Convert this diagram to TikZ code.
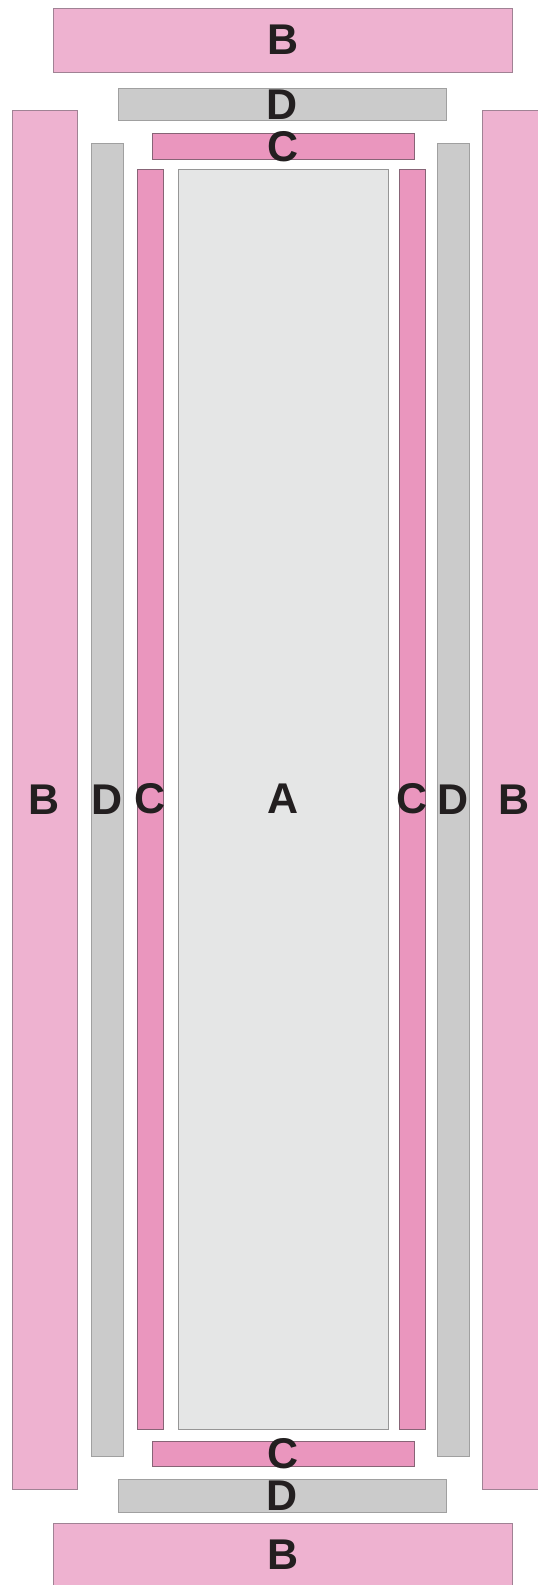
\documentclass[tikz,border=0pt]{standalone}
\usepackage{fontspec}
\setmainfont{Liberation Sans}
\definecolor{zonebfill}{RGB}{238,178,208}
\definecolor{zonebline}{RGB}{160,130,148}
\definecolor{zonecfill}{RGB}{234,150,190}
\definecolor{zonecline}{RGB}{135,100,118}
\definecolor{zonedfill}{RGB}{203,203,203}
\definecolor{zonedline}{RGB}{160,160,160}
\definecolor{zoneafill}{RGB}{229,230,230}
\definecolor{zonealine}{RGB}{150,150,150}
\definecolor{labelink}{RGB}{35,31,32}
\begin{document}
\begin{tikzpicture}[x=1pt,y=-1pt,
  zonetag/.style={inner sep=0pt,text=labelink,
                  font=\fontsize{43}{43}\selectfont\bfseries},
  zone/.style={inner sep=0pt,line width=0.7pt,label={[zonetag]center:#1}},
  zoneA/.style={zone=#1,draw=zonealine,fill=zoneafill},
  zoneB/.style={zone=#1,draw=zonebline,fill=zonebfill},
  zoneC/.style={zone=#1,draw=zonecline,fill=zonecfill},
  zoneD/.style={zone=#1,draw=zonedline,fill=zonedfill}]
  \clip (0,0) rectangle (538,1585);
  % centre
  \node[zoneA=A,minimum width=210,minimum height=1260] (a) at (283,799) {};
  % C ring
  \node[zoneC=C,minimum width=25.5,minimum height=1260] (cLeft) at (150.25,799) {};
  \node[zoneC=C,minimum width=25.5,minimum height=1260] (cRight) at (412.25,799) {};
  \node[zoneC=C,minimum width=262,minimum height=25.5] (cTop) at (283,146.25) {};
  \node[zoneC=C,minimum width=262,minimum height=25.5] (cBottom) at (283,1453.75) {};
  % D ring
  \node[zoneD=D,minimum width=32.5,minimum height=1312.5] (dLeft) at (107.25,799.75) {};
  \node[zoneD=D,minimum width=32.5,minimum height=1312.5] (dRight) at (453.25,799.75) {};
  \node[zoneD=D,minimum width=328,minimum height=32.5] (dTop) at (282.5,104.25) {};
  \node[zoneD=D,minimum width=328,minimum height=32.5] (dBottom) at (282.5,1495.75) {};
  % B ring
  \node[zoneB=B,minimum width=65,minimum height=1379] (bLeft) at (44.5,799.5) {};
  \node[zoneB=B,minimum width=65,minimum height=1379] (bRight) at (514.5,799.5) {};
  \node[zoneB=B,minimum width=459,minimum height=64] (bTop) at (283,40) {};
  \node[zoneB=B,minimum width=459,minimum height=64] (bBottom) at (283,1555) {};
\end{tikzpicture}
\end{document}
